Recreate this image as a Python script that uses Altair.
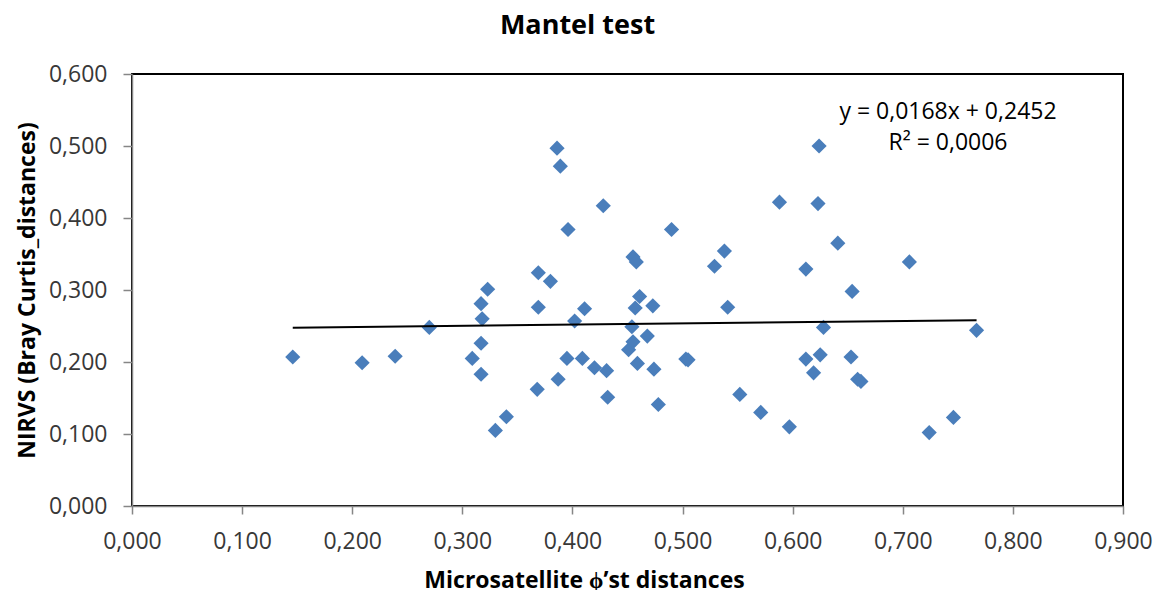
import altair as alt
import pandas as pd

# Microsatellite phi'st distances (x) and NIRVS Bray-Curtis distances (y)
x_vals = [0.146, 0.209, 0.239, 0.270, 0.309, 0.317, 0.318, 0.317, 0.317, 0.323,
          0.330, 0.340, 0.368, 0.369, 0.369, 0.380, 0.386, 0.389, 0.387, 0.395,
          0.396, 0.402, 0.409, 0.411, 0.420, 0.428, 0.431, 0.432, 0.451, 0.454,
          0.455, 0.455, 0.458, 0.457, 0.459, 0.461, 0.468, 0.473, 0.474, 0.478,
          0.490, 0.503, 0.505, 0.529, 0.538, 0.541, 0.552, 0.571, 0.588, 0.597,
          0.612, 0.612, 0.619, 0.623, 0.624, 0.625, 0.628, 0.641, 0.653, 0.654,
          0.659, 0.662, 0.706, 0.724, 0.746, 0.767]
y_vals = [0.207, 0.199, 0.208, 0.248, 0.205, 0.281, 0.260, 0.226, 0.183, 0.301,
          0.105, 0.124, 0.162, 0.324, 0.276, 0.312, 0.497, 0.472, 0.176, 0.205,
          0.384, 0.257, 0.205, 0.274, 0.192, 0.417, 0.188, 0.151, 0.217, 0.249,
          0.228, 0.346, 0.339, 0.275, 0.198, 0.291, 0.236, 0.278, 0.190, 0.141,
          0.384, 0.204, 0.203, 0.333, 0.354, 0.276, 0.155, 0.130, 0.422, 0.110,
          0.329, 0.204, 0.185, 0.420, 0.500, 0.210, 0.248, 0.365, 0.207, 0.298,
          0.176, 0.173, 0.339, 0.102, 0.123, 0.244]

# Linear trend line (Excel): y = 0,0168x + 0,2452
slope = 0.0168
intercept = 0.2452
trend_x = [min(x_vals), max(x_vals)]
eq_lines = ["y = 0,0168x + 0,2452", "R² = 0,0006"]

points = pd.DataFrame({"x": x_vals, "y": y_vals})
trend = pd.DataFrame({"x": trend_x})

FONT = "Open Sans"
label_expr = "replace(format(datum.value, '.3f'), '.', ',')"

xscale = alt.Scale(domain=[0, 0.9], nice=False, zero=True)
yscale = alt.Scale(domain=[0, 0.6], nice=False, zero=True)

x_axis = alt.Axis(
    title="Microsatellite ϕ’st distances",
    values=[i / 10 for i in range(10)],
    labelExpr=label_expr,
    labelFlush=False, labelOverlap=False, labelBound=False,
    grid=False,
    domainColor="#868686", domainWidth=1.5,
    tickColor="#868686", tickWidth=1.5, tickSize=8,
    labelPadding=16, labelFontSize=23, labelFont=FONT, labelColor="#383838",
    titleFontSize=23, titleFont=FONT, titleFontWeight="bold", titleColor="#000000",
    titleX=452, titleY=74, titleBaseline="middle", titleAlign="center",
)
y_axis = alt.Axis(
    title="NIRVS (Bray Curtis_distances)",
    values=[i / 10 for i in range(7)],
    labelExpr=label_expr,
    labelFlush=False, labelOverlap=False, labelBound=False,
    grid=False,
    domainColor="#868686", domainWidth=1.5,
    tickColor="#868686", tickWidth=1.5, tickSize=9,
    labelPadding=16, labelFontSize=23, labelFont=FONT, labelColor="#383838",
    titleFontSize=23, titleFont=FONT, titleFontWeight="bold", titleColor="#000000",
    titleX=-105, titleY=216, titleAngle=270, titleBaseline="middle", titleAlign="center",
)

pts = alt.Chart(points).mark_point(
    shape="diamond", filled=True, size=230, color="#4A7EBB", opacity=1
).encode(
    x=alt.X("x:Q", scale=xscale, axis=x_axis),
    y=alt.Y("y:Q", scale=yscale, axis=y_axis),
)

line = alt.Chart(trend).transform_calculate(
    y=f"{slope} * datum.x + {intercept}"
).mark_line(color="#000000", strokeWidth=2).encode(
    x=alt.X("x:Q", scale=xscale),
    y=alt.Y("y:Q", scale=yscale),
)

eq = alt.Chart(pd.DataFrame({"t": [eq_lines]})).mark_text(
    font=FONT, fontSize=23, color="#000000", align="center", baseline="middle",
    lineHeight=31,
).encode(
    text="t:N",
    x=alt.value(816),
    y=alt.value(38),
)

chart = alt.layer(pts, line, eq).properties(
    width=991,
    height=432,
    title=alt.TitleParams(
        "Mantel test", font=FONT, fontSize=27, fontWeight="bold", color="#000000",
        anchor="middle", dx=-50, offset=23,
    ),
    autosize=alt.AutoSizeParams(type="none"),
    padding={"left": 124, "top": 66, "right": 35, "bottom": 84},
).configure_view(stroke="#000000", strokeWidth=2)

chart.save("out.html", embed_options={"renderer": "svg", "actions": False})
